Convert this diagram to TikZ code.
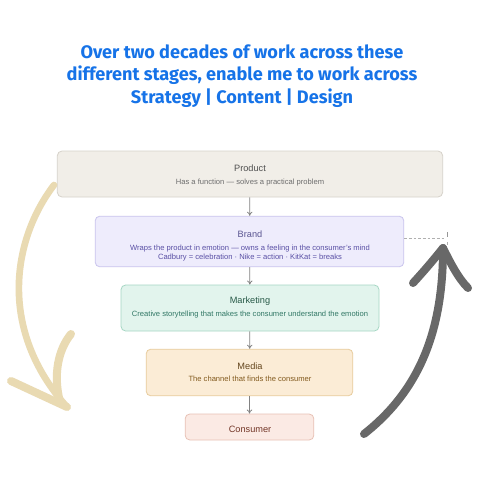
\documentclass[tikz,border=0pt]{standalone}
\usepackage{fontspec}
\setmainfont{Liberation Sans}
\newfontfamily\headfont{Fira Sans}
\usetikzlibrary{arrows.meta}

\definecolor{headblue}{RGB}{22,115,232}
\definecolor{prodfill}{RGB}{241,238,232}
\definecolor{proddraw}{RGB}{214,210,202}
\definecolor{brandfill}{RGB}{238,236,252}
\definecolor{branddraw}{RGB}{202,197,238}
\definecolor{mktfill}{RGB}{226,244,237}
\definecolor{mktdraw}{RGB}{166,215,196}
\definecolor{mediafill}{RGB}{251,236,214}
\definecolor{mediadraw}{RGB}{232,204,158}
\definecolor{consfill}{RGB}{251,234,228}
\definecolor{consdraw}{RGB}{232,194,182}
\definecolor{sandarrow}{RGB}{233,218,178}
\definecolor{greyarrow}{RGB}{104,104,104}

\tikzset{every picture/.style={line width=0.75pt}}

\begin{document}
\begin{tikzpicture}[x=0.75pt,y=0.75pt,yscale=-1,xscale=1,
  stage/.style={draw, rounded corners=3.5pt, line width=0.6pt},
  stagetitle/.style={font=\fontsize{6.9}{8}\selectfont},
  stagetext/.style={font=\fontsize{5.7}{6.6}\selectfont, align=center},
  headline/.style={font=\headfont\bfseries\fontsize{13.6}{15}\selectfont, text=headblue},
  flow/.style={draw={rgb,255:red,130;green,130;blue,130}, line width=0.6pt, -{To[length=3pt,width=4pt]}},
  brush/.style={line width=6pt, line cap=round, line join=round}]
\useasboundingbox[fill=white] (0,0) rectangle (500,500);

% Heading
\draw (242,52) node (head1) [headline] {Over two decades of work across these};
\draw (242,75) node (head2) [headline] {different stages, enable me to work across};
\draw (242,98) node (head3) [headline] {Strategy | Content | Design};

%Shape: Rectangle -- product
\node (product) [stage, fill=prodfill, draw=proddraw, minimum width=289pt, minimum height=34.5pt] at (250,174) {};
\node (productT) [stagetitle, text={rgb,255:red,80;green,80;blue,80}] at (250,168) {Product};
\node (productS) [stagetext, text={rgb,255:red,110;green,110;blue,110}] at (250,183) {Has a function — solves a practical problem};

%Shape: Rectangle -- brand
\node (brand) [stage, fill=brandfill, draw=branddraw, minimum width=231.5pt, minimum height=38pt] at (249.5,241.5) {};
\node (brandT) [stagetitle, text={rgb,255:red,90;green,85;blue,145}] at (250,234) {Brand};
\node (brandS) [stagetext, text={rgb,255:red,90;green,80;blue,165}] at (250,253) {Wraps the product in emotion — owns a feeling in the consumer’s mind\\Cadbury = celebration · Nike = action · KitKat = breaks};

%Shape: Rectangle -- marketing
\node (marketing) [stage, fill=mktfill, draw=mktdraw, minimum width=193.5pt, minimum height=34.5pt] at (250,308) {};
\node (marketingT) [stagetitle, text={rgb,255:red,40;green,90;blue,72}] at (250,301) {Marketing};
\node (marketingS) [stagetext, text={rgb,255:red,50;green,120;blue,102}] at (250,315) {Creative storytelling that makes the consumer understand the emotion};

%Shape: Rectangle -- media
\node (media) [stage, fill=mediafill, draw=mediadraw, minimum width=155pt, minimum height=35pt] at (249.5,372.5) {};
\node (mediaT) [stagetitle, text={rgb,255:red,100;green,70;blue,30}] at (250,366) {Media};
\node (mediaS) [stagetext, text={rgb,255:red,130;green,90;blue,30}] at (250,379) {The channel that finds the consumer};

%Shape: Rectangle -- consumer
\node (consumer) [stage, fill=consfill, draw=consdraw, minimum width=96.5pt, minimum height=19.5pt] at (249.5,427) {};
\node (consumerT) [stagetitle, text={rgb,255:red,115;green,55;blue,40}] at (250,429) {Consumer};

% flow arrows
\draw [flow] (product) -- (brand);
\draw [flow] (brand) -- (marketing);
\draw [flow] (marketing) -- (media);
\draw [flow] (media) -- (consumer);

% dashed leader off the brand box
\coordinate (leadEnd) at (446,238);
\draw [dashed, draw={rgb,255:red,175;green,175;blue,175}, line width=0.45pt, dash pattern=on 2pt off 1.5pt] (brand.east |- leadEnd) -- (leadEnd);
\draw [draw={rgb,255:red,150;green,150;blue,150}, line width=0.6pt] (447,232) -- (447,237);
\draw [draw={rgb,255:red,175;green,175;blue,175}, line width=0.5pt] (447,242) -- (447,245);

% sand brush arrow (down)
\draw [brush, sandarrow, line width=5pt] (54,185) .. controls (12,240) and (-2,330) .. (67,407);
\draw [brush, sandarrow] (11,381) -- (67,407);
\draw [brush, sandarrow] (71,334) .. controls (58,350) and (53,375) .. (60,402);

% grey brush arrow (up)
\draw [brush, greyarrow] (364,434) .. controls (420,390) and (443,330) .. (443,249);
\draw [brush, greyarrow] (413,283) .. controls (425,270) and (435,258) .. (443,248);
\draw [brush, greyarrow] (468,288) .. controls (458,278) and (450,262) .. (443,248);

\end{tikzpicture}
\end{document}
